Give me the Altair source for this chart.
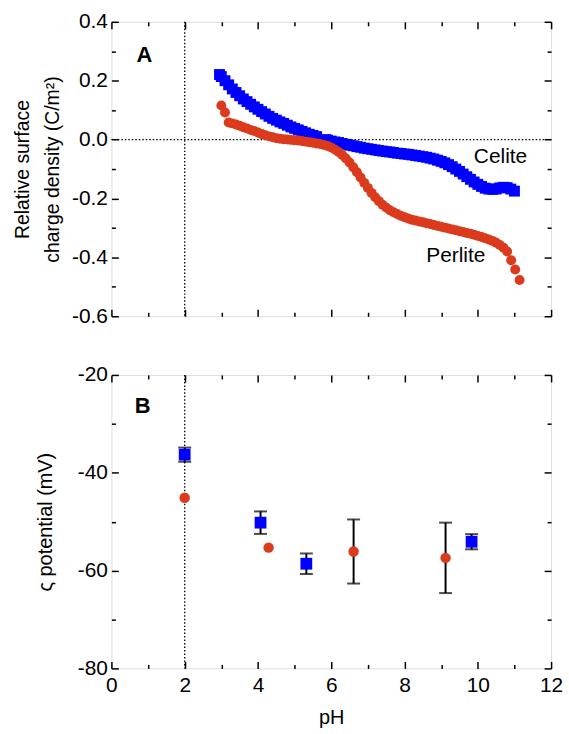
import altair as alt
import pandas as pd

# ---------------- data ----------------
celite_ph = [2.95, 3.0, 3.1, 3.2, 3.3, 3.4, 3.5, 3.6, 3.7, 3.8, 3.9, 4.0, 4.1, 4.2, 4.3,
             4.4, 4.5, 4.6, 4.7, 4.8, 4.9, 5.0, 5.1, 5.2, 5.3, 5.4, 5.5, 5.6,
             5.85, 5.9, 6.0, 6.1, 6.2, 6.3, 6.4, 6.5, 6.6, 6.7, 6.8, 6.9, 7.0, 7.1, 7.2,
             7.3, 7.4, 7.5, 7.6, 7.7, 7.8, 7.9, 8.0, 8.1, 8.2, 8.3, 8.4, 8.5, 8.6, 8.7,
             8.8, 8.9, 9.0, 9.1, 9.2, 9.3, 9.4, 9.5, 9.6, 9.7, 9.8, 9.9, 10.0, 10.1,
             10.2, 10.3, 10.4, 10.5, 10.6, 10.7, 10.8, 10.9, 11.0]
celite_q = [0.221, 0.214, 0.200, 0.186, 0.172, 0.160, 0.149, 0.138, 0.129, 0.120, 0.111,
            0.103, 0.095, 0.087, 0.079, 0.072, 0.066, 0.060, 0.055, 0.049, 0.043, 0.038,
            0.033, 0.028, 0.023, 0.018, 0.014, 0.010,
            0.000, -0.002, -0.005, -0.008, -0.010, -0.013, -0.016, -0.019, -0.021, -0.024,
            -0.026, -0.029, -0.031, -0.033, -0.035, -0.037, -0.039, -0.041, -0.042, -0.044,
            -0.046, -0.047, -0.049, -0.050, -0.052, -0.054, -0.056, -0.058, -0.060, -0.063,
            -0.066, -0.070, -0.074, -0.079, -0.085, -0.092, -0.100, -0.108, -0.117, -0.126,
            -0.135, -0.144, -0.152, -0.159, -0.165, -0.168, -0.169, -0.168, -0.164, -0.162,
            -0.163, -0.168, -0.175]

perlite_ph = [3.0, 3.1, 3.2, 3.3, 3.4, 3.5, 3.6, 3.7, 3.8, 3.9, 4.0, 4.1, 4.2, 4.3, 4.4,
              4.5, 4.6, 4.7, 4.8, 4.9, 5.0, 5.1, 5.2, 5.3, 5.4, 5.5, 5.6, 5.7, 5.8, 5.9,
              6.0, 6.1, 6.2, 6.3, 6.4, 6.5, 6.6, 6.7, 6.8, 6.9, 7.0, 7.1, 7.2, 7.3, 7.4,
              7.5, 7.6, 7.7, 7.8, 7.9, 8.0, 8.1, 8.2, 8.3, 8.4, 8.5, 8.6, 8.7, 8.8, 8.9,
              9.0, 9.1, 9.2, 9.3, 9.4, 9.5, 9.6, 9.7, 9.8, 9.9, 10.0, 10.1, 10.2, 10.3,
              10.4, 10.5, 10.6, 10.7, 10.8, 10.91, 11.02, 11.14]
perlite_q = [0.116, 0.092, 0.058, 0.055, 0.051, 0.047, 0.042, 0.038, 0.033, 0.029, 0.024,
             0.019, 0.015, 0.011, 0.008, 0.005, 0.003, 0.001, 0.000, -0.001, -0.002, -0.003,
             -0.005, -0.007, -0.009, -0.011, -0.013, -0.015, -0.018, -0.022,
             -0.027, -0.034, -0.042, -0.052, -0.064, -0.078, -0.094, -0.111, -0.129, -0.147,
             -0.164, -0.181, -0.196, -0.209, -0.221, -0.231, -0.240, -0.247, -0.253, -0.259,
             -0.264, -0.268, -0.272, -0.275, -0.278, -0.281, -0.284, -0.287, -0.290, -0.293,
             -0.296, -0.299, -0.302, -0.305, -0.308, -0.311, -0.314, -0.317, -0.320, -0.323,
             -0.327, -0.331, -0.335, -0.339, -0.344, -0.350, -0.358, -0.367, -0.380,
             -0.410, -0.441, -0.477]

zeta_celite_ph = [2.0, 4.07, 5.32, 9.83]
zeta_celite = [-36.3, -50.2, -58.6, -54.1]
zeta_celite_err = [1.45, 2.3, 2.1, 1.55]
zeta_perlite_ph = [2.0, 4.29, 6.61, 9.12]
zeta_perlite = [-45.1, -55.3, -56.1, -57.4]
zeta_perlite_err = [0.0, 0.0, 6.55, 7.2]

x_major = [0, 2, 4, 6, 8, 10, 12]
x_minor = [1, 3, 5, 7, 9, 11]
ya_major = [-0.6, -0.4, -0.2, 0.0, 0.2, 0.4]
ya_minor = [-0.5, -0.3, -0.1, 0.1, 0.3]
yb_major = [-80, -60, -40, -20]
yb_minor = [-70, -50, -30]

series_labels = ["Celite", "Perlite"]
series_label_ph = [10.62, 9.4]
series_label_q = [-0.059, -0.394]
panel_a_label = ["A"]
panel_a_pos = [0.9, 0.288]
panel_b_label = ["B"]
panel_b_pos = [0.85, -26.3]

# ---------------- styling ----------------
BLUE = "#0000FF"
RED = "#DC3A1C"
FONT = "Liberation Sans"
W, HA, HB = 442, 296, 295
MAJ, MIN = 7, 4
LABEL_FS = 21


def ax(orient, values, size, label_expr=None, title=None, title_padding=6,
       label_padding=4, title_fs=20):
    kw = dict(orient=orient, values=values, tickSize=size, offset=-size,
              domain=False, grid=False, tickColor="black", tickWidth=1.5,
              title=title)
    if label_expr:
        kw.update(labels=True, labelExpr=label_expr, labelFont=FONT,
                  labelFontSize=LABEL_FS, labelColor="black", labelPadding=label_padding,
                  labelOverlap=False, labelFlush=False)
    else:
        kw.update(labels=False)
    if title is not None:
        kw.update(titleFont=FONT, titleFontSize=title_fs, titleFontWeight="normal",
                  titleColor="black", titlePadding=title_padding, titleLineHeight=30)
    return alt.Axis(**kw)


fmt1 = "(datum.value < 0 ? '-' : '') + format(abs(datum.value), '.1f')"
fmt0 = "(datum.value < 0 ? '-' : '') + format(abs(datum.value), 'd')"

xs = alt.Scale(domain=[0, 12], nice=False, zero=False)
ysa = alt.Scale(domain=[-0.6, 0.4], nice=False, zero=False)
ysb = alt.Scale(domain=[-80, -20], nice=False, zero=False)

# ---------------- panel A ----------------
dfc = pd.DataFrame({"ph": celite_ph, "q": celite_q})
dfp = pd.DataFrame({"ph": perlite_ph, "q": perlite_q})
dft = pd.DataFrame({"ph": series_label_ph, "q": series_label_q, "t": series_labels})
dfa = pd.DataFrame({"ph": [panel_a_pos[0]], "q": [panel_a_pos[1]], "t": panel_a_label})

a_vrule = alt.Chart().mark_rule(color="black", strokeWidth=1.3, strokeDash=[1.5, 2]).encode(
    x=alt.datum(2, scale=xs, axis=ax("top", x_minor, MIN)))
a_hrule = alt.Chart().mark_rule(color="black", strokeWidth=1.3, strokeDash=[1.5, 2]).encode(
    y=alt.datum(0, scale=ysa, axis=ax("right", ya_minor, MIN)))
a_cel = alt.Chart(dfc).mark_square(size=120, color=BLUE, opacity=1).encode(
    x=alt.X("ph:Q", scale=xs, axis=ax("bottom", x_major, MAJ)),
    y=alt.Y("q:Q", scale=ysa, axis=ax("left", ya_major, MAJ, label_expr=fmt1,
                                       title=["Relative surface", "charge density (C/m²)"],
                                       title_padding=9, title_fs=19.5)))
a_per = alt.Chart(dfp).mark_circle(size=100, color=RED, opacity=1).encode(
    x=alt.X("ph:Q", scale=xs, axis=ax("bottom", x_minor, MIN)),
    y=alt.Y("q:Q", scale=ysa, axis=ax("left", ya_minor, MIN)))
a_txt = alt.Chart(dft).mark_text(font=FONT, fontSize=21, color="black").encode(
    x=alt.X("ph:Q", scale=xs, axis=ax("top", x_major, MAJ)),
    y=alt.Y("q:Q", scale=ysa, axis=ax("right", ya_major, MAJ)),
    text="t:N")
a_lab = alt.Chart(dfa).mark_text(font=FONT, fontSize=22, fontWeight="bold", color="black").encode(
    x=alt.X("ph:Q", scale=xs, axis=None),
    y=alt.Y("q:Q", scale=ysa, axis=None),
    text="t:N")

panel_a = alt.layer(a_vrule, a_hrule, a_cel, a_per, a_txt, a_lab).resolve_axis(
    x="independent", y="independent").properties(width=W, height=HA)

# ---------------- panel B ----------------
dbc = pd.DataFrame({"ph": zeta_celite_ph, "v": zeta_celite, "e": zeta_celite_err})
dbp = pd.DataFrame({"ph": zeta_perlite_ph, "v": zeta_perlite, "e": zeta_perlite_err})
derr = pd.concat([dbc, dbp])
derr = derr[derr["e"] > 0].copy()
derr["lo"] = derr["v"] - derr["e"]
derr["hi"] = derr["v"] + derr["e"]
dfb = pd.DataFrame({"ph": [panel_b_pos[0]], "v": [panel_b_pos[1]], "t": panel_b_label})

b_vrule = alt.Chart().mark_rule(color="black", strokeWidth=1.3, strokeDash=[1.5, 2]).encode(
    x=alt.datum(2, scale=xs, axis=None))
b_bar = alt.Chart(derr).mark_rule(color="black", strokeWidth=2).encode(
    x=alt.X("ph:Q", scale=xs, axis=ax("bottom", x_major, MAJ, label_expr=fmt0, title="pH",
                                       title_padding=12, label_padding=6)),
    y=alt.Y("lo:Q", scale=ysb, axis=ax("left", yb_major, MAJ, label_expr=fmt0,
                                        title="ς potential (mV)", title_padding=22)),
    y2="hi:Q")
b_cap = alt.Chart(derr).transform_fold(["lo", "hi"], as_=["k", "y"]).mark_tick(
    color="black", orient="horizontal", size=13, thickness=2).encode(
    x=alt.X("ph:Q", scale=xs, axis=ax("top", x_minor, MIN)),
    y=alt.Y("y:Q", scale=ysb, axis=ax("right", yb_minor, MIN)))
b_cel = alt.Chart(dbc).mark_square(size=140, color=BLUE, opacity=1).encode(
    x=alt.X("ph:Q", scale=xs, axis=ax("bottom", x_minor, MIN)),
    y=alt.Y("v:Q", scale=ysb, axis=ax("left", yb_minor, MIN)))
b_per = alt.Chart(dbp).mark_circle(size=110, color=RED, opacity=1).encode(
    x=alt.X("ph:Q", scale=xs, axis=ax("top", x_major, MAJ)),
    y=alt.Y("v:Q", scale=ysb, axis=ax("right", yb_major, MAJ)))
b_lab = alt.Chart(dfb).mark_text(font=FONT, fontSize=22, fontWeight="bold", color="black").encode(
    x=alt.X("ph:Q", scale=xs, axis=None),
    y=alt.Y("v:Q", scale=ysb, axis=None),
    text="t:N")

panel_b = alt.layer(b_vrule, b_bar, b_cap, b_cel, b_per, b_lab).resolve_axis(
    x="independent", y="independent").properties(width=W, height=HB)

chart = alt.vconcat(panel_a, panel_b, spacing=36).properties(
    padding={"left": 12, "top": 8, "right": 5, "bottom": 0},
    background="white",
).configure_view(stroke="black", strokeWidth=2).configure(font=FONT)

chart.save("out.html", embed_options={"renderer": "svg", "actions": False})
